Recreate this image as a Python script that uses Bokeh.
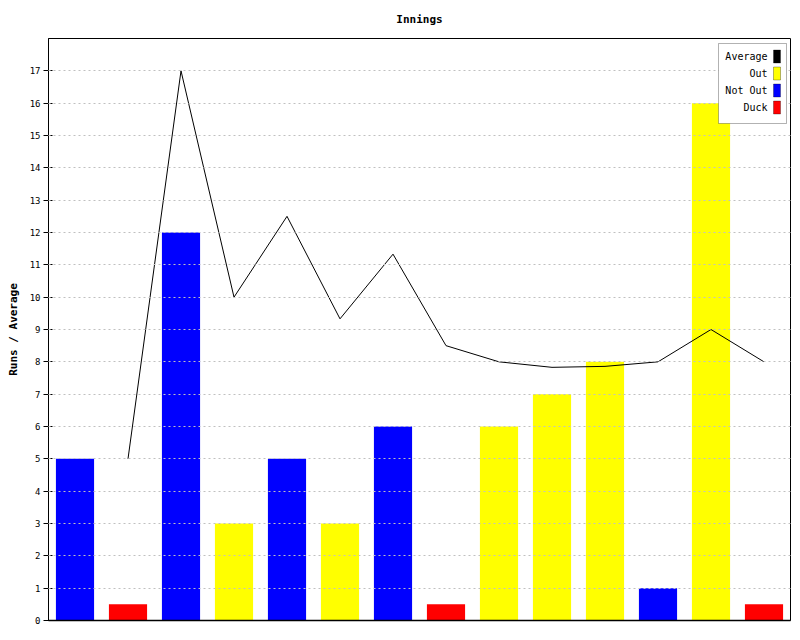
from bokeh.plotting import figure
from bokeh.models import Range1d, FixedTicker, Label, BoxAnnotation, ColumnDataSource
from bokeh.embed import file_html
from bokeh.resources import INLINE

# ---- data ----
innings = list(range(1, 15))
outcome = ["Not Out", "Duck", "Not Out", "Out", "Not Out", "Out", "Not Out",
           "Duck", "Out", "Out", "Out", "Not Out", "Out", "Duck"]
bar_values = [5, 0.5, 12, 3, 5, 3, 6, 0.5, 6, 7, 8, 1, 16, 0.5]
average = [float("nan"), 5, 17, 10, 12.5, 9.33, 11.33, 8.5, 8, 7.83, 7.86, 8, 9, 8]
y_ticks = list(range(0, 18))
legend_names = ["Average", "Out", "Not Out", "Duck"]
colors = {"Average": "#000000", "Out": "#ffff00", "Not Out": "#0000ff", "Duck": "#ff0000"}

MONO = "DejaVu Sans Mono"

xs = [i - 0.5 for i in innings]
src = ColumnDataSource(dict(x=xs, top=bar_values, color=[colors[o] for o in outcome], avg=average))

p = figure(frame_width=742, frame_height=582, min_border_left=48, min_border_top=38,
           min_border_right=8, min_border_bottom=18,
           x_range=Range1d(0, len(innings)), y_range=Range1d(0, 18),
           output_backend="svg", toolbar_location=None, title="Innings")
p.title.align = "center"
p.title.vertical_align = "top"
p.title.text_font = MONO
p.title.text_font_size = "11px"
p.title.text_font_style = "bold"
p.title.text_color = "black"
p.title.offset = 0
p.title.standoff = 22

p.vbar(x="x", top="top", width=0.72, color="color", line_color=None, source=src)
p.line(x="x", y="avg", line_color="black", line_width=1, source=src)

p.outline_line_color = "black"
p.outline_line_width = 1
p.background_fill_color = "white"
p.border_fill_color = "white"

p.xgrid.visible = False
p.ygrid.ticker = FixedTicker(ticks=y_ticks[1:])
p.ygrid.grid_line_color = "#c0c0c0"
p.ygrid.grid_line_dash = "2 3"
p.ygrid.level = "annotation"

p.xaxis.ticker = FixedTicker(ticks=[])
p.xaxis.major_tick_line_color = None
p.xaxis.minor_tick_line_color = None
p.xaxis.axis_line_color = "black"
p.xaxis.axis_line_width = 1.5

p.yaxis.ticker = FixedTicker(ticks=y_ticks)
p.yaxis.minor_tick_line_color = None
p.yaxis.major_tick_out = 5
p.yaxis.major_tick_in = 4
p.yaxis.major_tick_line_color = "black"
p.yaxis.major_label_standoff = 3
p.yaxis.major_label_text_font = MONO
p.yaxis.major_label_text_font_size = "9px"
p.yaxis.major_label_text_color = "black"
p.yaxis.axis_label = "Runs / Average"
p.yaxis.axis_label_text_font = MONO
p.yaxis.axis_label_text_font_size = "11px"
p.yaxis.axis_label_text_font_style = "bold"
p.yaxis.axis_label_text_color = "black"
p.yaxis.axis_label_standoff = 7
p.yaxis.axis_line_color = "black"

# ---- custom legend (swatches on the right, like the reference) ----
FH = 582
p.add_layout(BoxAnnotation(left=670, right=738, top=FH - 5, bottom=FH - 85,
                           left_units="screen", right_units="screen",
                           top_units="screen", bottom_units="screen",
                           fill_color="white", fill_alpha=1.0,
                           line_color="black", line_width=1, level="overlay"))
for k, name in enumerate(legend_names):
    cy = FH - 18 - k * 17
    p.add_layout(BoxAnnotation(left=725, right=732, top=cy + 6.5, bottom=cy - 6.5,
                               left_units="screen", right_units="screen",
                               top_units="screen", bottom_units="screen",
                               fill_color=colors[name], fill_alpha=1.0,
                               line_color="black", line_width=1, level="overlay"))
    p.add_layout(Label(x=719, y=cy, x_units="screen", y_units="screen", text=name,
                       text_align="right", text_baseline="middle", text_color="black",
                       text_font=MONO, text_font_size="10px", level="overlay"))

open("out.html", "w").write(file_html(p, INLINE))
